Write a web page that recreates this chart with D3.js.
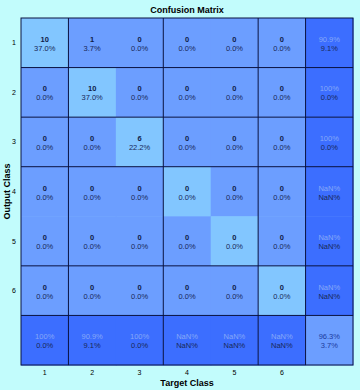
<!DOCTYPE html>
<html>
<head>
<meta charset="utf-8">
<script src="https://cdn.jsdelivr.net/npm/d3@7"></script>
<style>
  body { margin: 0; background: #c2fcfc; }
  svg { display: block; font-family: "Liberation Sans", Arial, sans-serif; }
</style>
</head>
<body>
<div id="chart"></div>
<script>
// confusion matrix values, rows = output class, cols = target class
const classes = ["1", "2", "3", "4", "5", "6"];
const counts = [
  [10, 1, 0, 0, 0, 0],
  [0, 10, 0, 0, 0, 0],
  [0, 0, 6, 0, 0, 0],
  [0, 0, 0, 0, 0, 0],
  [0, 0, 0, 0, 0, 0],
  [0, 0, 0, 0, 0, 0]
];
const cellPct = [
  ["37.0%", "3.7%", "0.0%", "0.0%", "0.0%", "0.0%"],
  ["0.0%", "37.0%", "0.0%", "0.0%", "0.0%", "0.0%"],
  ["0.0%", "0.0%", "22.2%", "0.0%", "0.0%", "0.0%"],
  ["0.0%", "0.0%", "0.0%", "0.0%", "0.0%", "0.0%"],
  ["0.0%", "0.0%", "0.0%", "0.0%", "0.0%", "0.0%"],
  ["0.0%", "0.0%", "0.0%", "0.0%", "0.0%", "0.0%"]
];
const rowCorrect = ["90.9%", "100%", "100%", "NaN%", "NaN%", "NaN%"];
const rowError = ["9.1%", "0.0%", "0.0%", "NaN%", "NaN%", "NaN%"];
const colCorrect = ["100%", "90.9%", "100%", "NaN%", "NaN%", "NaN%"];
const colError = ["0.0%", "9.1%", "0.0%", "NaN%", "NaN%", "NaN%"];
const overall = ["96.3%", "3.7%"];

// where the dark grid lines show up (after these indices)
const vLines = [1, 3, 5, 6];
const hLines = [1, 2, 3, 5, 6];

const W = 360, H = 390;
const mLeft = 21, mRight = 353, mTop = 18, mBottom = 365;

const svg = d3.select("#chart").append("svg")
  .attr("width", W)
  .attr("height", H);

const keys = classes.concat(["all"]);
const x = d3.scaleBand().domain(keys).range([mLeft, mRight]);
const y = d3.scaleBand().domain(keys).range([mTop, mBottom]);

// build cells
const cells = [];
classes.forEach((r, i) => {
  classes.forEach((c, j) => {
    cells.push({ r, c, t1: String(counts[i][j]), t2: cellPct[i][j],
      kind: i === j ? "diag" : "off" });
  });
  cells.push({ r, c: "all", t1: rowCorrect[i], t2: rowError[i], kind: "sum" });
});
classes.forEach((c, j) => {
  cells.push({ r: "all", c, t1: colCorrect[j], t2: colError[j], kind: "sum" });
});
cells.push({ r: "all", c: "all", t1: overall[0], t2: overall[1], kind: "total" });

const fill = { diag: "#82c6ff", off: "#6c9eff", sum: "#3c6eff", total: "#6c9eff" };

svg.selectAll("rect.cell")
  .data(cells)
  .enter()
  .append("rect")
    .attr("class", "cell")
    .attr("x", d => x(d.c))
    .attr("y", d => y(d.r))
    .attr("width", x.bandwidth() + 0.5)
    .attr("height", y.bandwidth() + 0.5)
    .attr("fill", d => fill[d.kind]);

const g = svg.selectAll("g.lbl")
  .data(cells)
  .enter()
  .append("g")
    .attr("transform", d => `translate(${x(d.c) + x.bandwidth() / 2},${y(d.r) + y.bandwidth() / 2})`);

g.append("text")
  .attr("y", -1)
  .attr("text-anchor", "middle")
  .attr("font-size", 7.5)
  .attr("font-weight", d => d.kind === "sum" || d.kind === "total" ? "normal" : "bold")
  .attr("fill", d => d.kind === "sum" ? "#86a8f8" : (d.kind === "total" ? "#1c3ca0" : "#101c48"))
  .text(d => d.t1);

g.append("text")
  .attr("y", 8)
  .attr("text-anchor", "middle")
  .attr("font-size", 7.5)
  .attr("fill", d => d.kind === "total" ? "#1c3ca0" : "#182858")
  .text(d => d.t2);

// grid lines
svg.selectAll("line.v")
  .data(vLines)
  .enter()
  .append("line")
    .attr("x1", d => x(keys[d]))
    .attr("x2", d => x(keys[d]))
    .attr("y1", mTop)
    .attr("y2", mBottom)
    .attr("stroke", "#0a1240")
    .attr("stroke-width", 1);

svg.selectAll("line.h")
  .data(hLines)
  .enter()
  .append("line")
    .attr("y1", d => y(keys[d]))
    .attr("y2", d => y(keys[d]))
    .attr("x1", mLeft)
    .attr("x2", mRight)
    .attr("stroke", "#0a1240")
    .attr("stroke-width", 1);

svg.append("rect")
  .attr("x", mLeft)
  .attr("y", mTop)
  .attr("width", mRight - mLeft)
  .attr("height", mBottom - mTop)
  .attr("fill", "none")
  .attr("stroke", "#0a1240")
  .attr("stroke-width", 1);

// tick labels
svg.selectAll("text.xt")
  .data(classes)
  .enter()
  .append("text")
    .attr("x", d => x(d) + x.bandwidth() / 2)
    .attr("y", mBottom + 10)
    .attr("text-anchor", "middle")
    .attr("font-size", 7)
    .attr("fill", "#000")
    .text(d => d);

svg.selectAll("text.yt")
  .data(classes)
  .enter()
  .append("text")
    .attr("x", mLeft - 5)
    .attr("y", d => y(d) + y.bandwidth() / 2 + 2.5)
    .attr("text-anchor", "end")
    .attr("font-size", 7)
    .attr("fill", "#000")
    .text(d => d);

svg.append("text")
  .attr("x", (mLeft + mRight) / 2)
  .attr("y", 13)
  .attr("text-anchor", "middle")
  .attr("font-size", 9)
  .attr("font-weight", "bold")
  .text("Confusion Matrix");

svg.append("text")
  .attr("x", (mLeft + mRight) / 2)
  .attr("y", 386)
  .attr("text-anchor", "middle")
  .attr("font-size", 9)
  .attr("font-weight", "bold")
  .text("Target Class");

svg.append("text")
  .attr("transform", `translate(10,${(mTop + mBottom) / 2}) rotate(-90)`)
  .attr("text-anchor", "middle")
  .attr("font-size", 9)
  .attr("font-weight", "bold")
  .text("Output Class");
</script>
</body>
</html>
